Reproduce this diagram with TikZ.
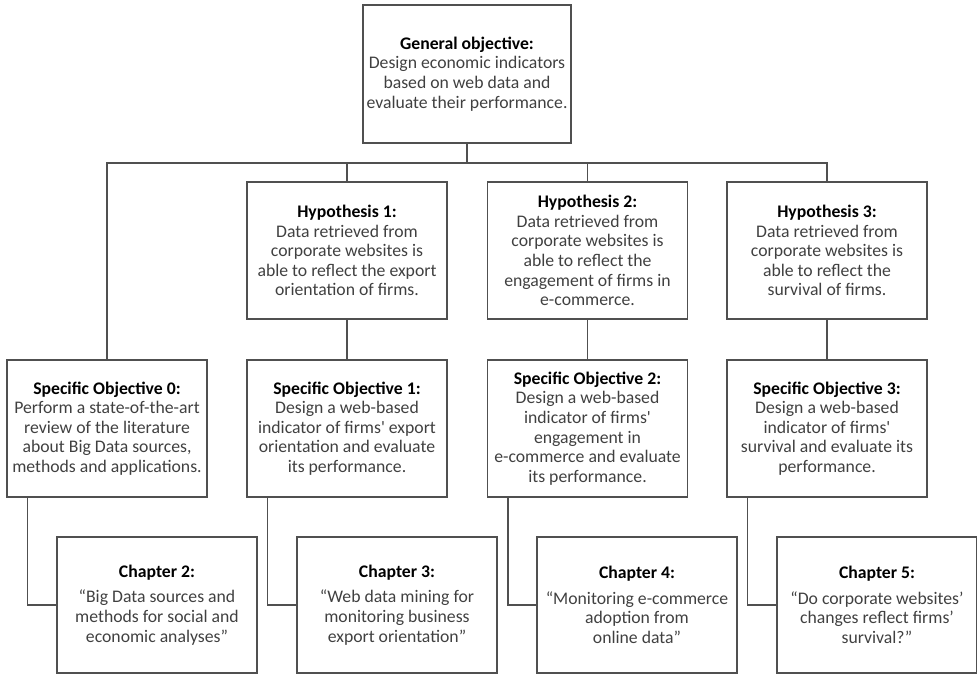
\documentclass[tikz,border=0pt]{standalone}
\usepackage{fontspec}
\setmainfont{Carlito}[Ligatures=TeXOff]
\definecolor{bodytxt}{HTML}{404040}
\definecolor{edge}{HTML}{505050}
\newcommand{\hd}[1]{{\color{black}\bfseries #1}}
\begin{document}
\begin{tikzpicture}[x=1pt,y=-1pt,
  box/.style={draw=edge,line width=1.2pt,minimum width=200pt,align=center,
    text=bodytxt,font=\fontsize{17.7}{19.6}\selectfont,inner sep=2pt},
  link/.style={draw=edge,line width=1.2pt}]
\useasboundingbox (0,0) rectangle (977,674);
\node[box,minimum width=208pt,minimum height=138pt] (gen) at (467,74)
  {\hd{General objective:}\\Design economic indicators\\based on web data and\\evaluate their performance.};
\node[box,minimum height=137pt] (h1) at (347,250.5)
  {\hd{Hypothesis 1:}\\Data retrieved from\\corporate websites is\\able to reflect the export\\orientation of firms.};
\node[box,minimum height=137pt] (h2) at (587.5,250.5)
  {\hd{Hypothesis 2:}\\Data retrieved from\\corporate websites is\\able to reflect the\\engagement of firms in\\e-commerce.};
\node[box,minimum height=137pt] (h3) at (827,250.5)
  {\hd{Hypothesis 3:}\\Data retrieved from\\corporate websites is\\able to reflect the\\survival of firms.};
\node[box,minimum height=137pt] (so0) at (107,428.5)
  {\hd{Specific Objective 0:}\\Perform a state-of-the-art\\review of the literature\\about Big Data sources,\\methods and applications.};
\node[box,minimum height=137pt] (so1) at (347,428.5)
  {\hd{Specific Objective 1:}\\Design a web-based\\indicator of firms' export\\orientation and evaluate\\its performance.};
\node[box,minimum height=137pt] (so2) at (587.5,428.5)
  {\hd{Specific Objective 2:}\\Design a web-based\\indicator of firms'\\engagement in\\e-commerce and evaluate\\its performance.};
\node[box,minimum height=137pt] (so3) at (827,428.5)
  {\hd{Specific Objective 3:}\\Design a web-based\\indicator of firms'\\survival and evaluate its\\performance.};
\node[box,minimum height=136pt] (ch2) at (157,605)
  {\hd{Chapter 2:}\\[6pt]“Big Data sources and\\methods for social and\\economic analyses”};
\node[box,minimum height=136pt] (ch3) at (397,605)
  {\hd{Chapter 3:}\\[6pt]“Web data mining for\\monitoring business\\export orientation”};
\node[box,minimum height=136pt] (ch4) at (637,605)
  {\hd{Chapter 4:}\\[6pt]“Monitoring e-commerce\\adoption from\\online data”};
\node[box,minimum height=136pt] (ch5) at (877,605)
  {\hd{Chapter 5:}\\[6pt]“Do corporate websites’\\changes reflect firms’\\survival?”};
\coordinate (busL) at (107,163);
\coordinate (busR) at (827,163);
\draw[link] (so0.north) -- (busL) -- (busR) -- (h3.north);
\draw[link] (gen.south) -- (gen.south |- busL);
\draw[link] (h1.north) -- (h1.north |- busL);
\draw[link] (h2.north) -- (h2.north |- busL);
\draw[link] (h1.south) -- (so1.north);
\draw[link] (h2.south) -- (so2.north);
\draw[link] (h3.south) -- (so3.north);
\draw[link] ([xshift=21pt]so0.south west) |- (ch2.west);
\draw[link] ([xshift=21pt]so1.south west) |- (ch3.west);
\draw[link] ([xshift=21pt]so2.south west) |- (ch4.west);
\draw[link] ([xshift=21pt]so3.south west) |- (ch5.west);
\end{tikzpicture}
\end{document}
